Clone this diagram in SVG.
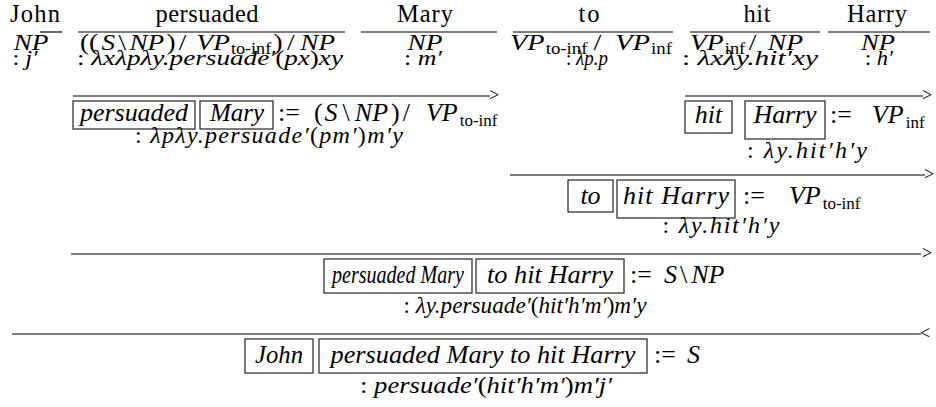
<svg xmlns="http://www.w3.org/2000/svg" width="936" height="407" viewBox="0 0 936 407">
<style>
text{font-family:"Liberation Serif","Times New Roman",serif;font-size:25px;fill:#000}
.w{font-size:24.5px}
.c{font-size:26px}
.t{font-size:24px}
.i{font-style:italic}
.s{font-size:17px;font-style:normal}
.ts{font-size:16px;font-style:normal}
.sem{font-size:24px}
.ts2{font-size:22px}
.b{font-size:26px;font-style:italic}
.sym{font-size:18px}
.bg{fill:#fff;stroke:none}
line{stroke:#000;stroke-width:1.2}
rect.box{fill:none;stroke:#333;stroke-width:1.3}
</style>
<rect class="bg" width="936" height="407"/>

<g id="connectors">
  <line x1="40" y1="32" x2="62" y2="32"/>
  <line x1="78" y1="32" x2="345" y2="32"/>
  <line x1="361" y1="32" x2="497" y2="32"/>
  <line x1="513" y1="32" x2="673" y2="32"/>
  <line x1="690" y1="32" x2="820" y2="32"/>
  <line x1="828" y1="32" x2="930" y2="32"/>
  <line x1="73" y1="96" x2="490" y2="96"/><text class="sym" x="489" y="101">&gt;</text>
  <line x1="685" y1="96" x2="923" y2="96"/><text class="sym" x="922" y="101">&gt;</text>
  <line x1="510" y1="175" x2="925" y2="175"/><text class="sym" x="924" y="180">&gt;</text>
  <line x1="71" y1="254" x2="921" y2="254"/><text class="sym" x="922" y="259">&gt;</text>
  <line x1="12" y1="334" x2="921" y2="334"/><text class="sym" x="920" y="339">&lt;</text>
</g>

<g id="john">
  <text class="w" x="35" y="22" text-anchor="middle" textLength="50" lengthAdjust="spacing">John</text>
  <text class="t i" x="31" y="50" text-anchor="middle" textLength="35" lengthAdjust="spacingAndGlyphs">NP</text>
  <text class="ts2" x="25" y="65" text-anchor="middle" textLength="25" lengthAdjust="spacingAndGlyphs">: <tspan class="i">j′</tspan></text>
</g>

<g id="persuaded">
  <text class="w" x="207" y="22" text-anchor="middle" textLength="103" lengthAdjust="spacing">persuaded</text>
  <text class="t" x="80" y="50" textLength="255" lengthAdjust="spacingAndGlyphs">((<tspan class="i" dx="3">S</tspan><tspan dx="3">\</tspan><tspan class="i" dx="3">NP</tspan><tspan dx="2">)</tspan><tspan dx="3">/</tspan><tspan class="i" dx="9">VP</tspan><tspan class="ts" dx="1" dy="4">to-inf</tspan><tspan dx="2" dy="-4">)</tspan><tspan dx="4">/</tspan><tspan class="i" dx="5">NP</tspan></text>
  <text class="ts2" x="210" y="65" text-anchor="middle" textLength="266" lengthAdjust="spacingAndGlyphs">: <tspan class="i">λxλpλy.persuade′</tspan>(<tspan class="i">px</tspan>)<tspan class="i">xy</tspan></text>
</g>

<g id="mary">
  <text class="w" x="425" y="22" text-anchor="middle" textLength="56" lengthAdjust="spacing">Mary</text>
  <text class="t i" x="425" y="50" text-anchor="middle" textLength="35" lengthAdjust="spacingAndGlyphs">NP</text>
  <text class="ts2" x="423" y="65" text-anchor="middle" textLength="38" lengthAdjust="spacingAndGlyphs">: <tspan class="i">m′</tspan></text>
</g>

<g id="to">
  <text class="w" x="589" y="22" text-anchor="middle" textLength="21" lengthAdjust="spacing">to</text>
  <text class="t" x="510" y="50" textLength="162" lengthAdjust="spacingAndGlyphs"><tspan class="i">VP</tspan><tspan class="ts" dx="1" dy="4">to-inf</tspan><tspan dx="5" dy="-4">/</tspan><tspan class="i" dx="12">VP</tspan><tspan class="ts" dx="1" dy="4">inf</tspan></text>
  <text class="ts2" x="587" y="65" text-anchor="middle" textLength="42" lengthAdjust="spacingAndGlyphs">: <tspan class="i">λp.p</tspan></text>
</g>

<g id="hit">
  <text class="w" x="757" y="22" text-anchor="middle" textLength="27" lengthAdjust="spacing">hit</text>
  <text class="t" x="690" y="50" textLength="113" lengthAdjust="spacingAndGlyphs"><tspan class="i">VP</tspan><tspan class="ts" dx="1" dy="4">inf</tspan><tspan dx="3" dy="-4">/</tspan><tspan class="i" dx="10">NP</tspan></text>
  <text class="ts2" x="750" y="65" text-anchor="middle" textLength="136" lengthAdjust="spacingAndGlyphs">: <tspan class="i">λxλy.hit′xy</tspan></text>
</g>

<g id="harry">
  <text class="w" x="877" y="22" text-anchor="middle" textLength="60" lengthAdjust="spacing">Harry</text>
  <text class="t i" x="878" y="50" text-anchor="middle" textLength="34" lengthAdjust="spacingAndGlyphs">NP</text>
  <text class="ts2" x="879" y="65" text-anchor="middle" textLength="28" lengthAdjust="spacingAndGlyphs">: <tspan class="i">h′</tspan></text>
</g>

<g id="persuaded-mary">
  <rect class="box" x="73" y="101" width="122" height="28"/>
  <text class="b" x="134" y="121" text-anchor="middle" textLength="108" lengthAdjust="spacing">persuaded</text>
  <rect class="box" x="200" y="101" width="73" height="28"/>
  <text class="b" x="237" y="121" text-anchor="middle" textLength="54" lengthAdjust="spacingAndGlyphs">Mary</text>
  <text class="c" x="278" y="121">:=<tspan dx="14">(</tspan><tspan class="i" dx="2">S</tspan><tspan dx="5">\</tspan><tspan class="i" dx="5">NP</tspan><tspan dx="3">)</tspan><tspan dx="3">/</tspan><tspan class="i" dx="16">VP</tspan><tspan class="s" dx="2" dy="5">to-inf</tspan></text>
  <text class="sem" x="269" y="143" text-anchor="middle" textLength="268" lengthAdjust="spacing">: <tspan class="i">λpλy.persuade′</tspan>(<tspan class="i">pm′</tspan>)<tspan class="i">m′y</tspan></text>
</g>

<g id="hit-harry">
  <rect class="box" x="685" y="101" width="47" height="32"/>
  <text class="b" x="708.5" y="123" text-anchor="middle">hit</text>
  <rect class="box" x="745" y="101" width="80" height="38"/>
  <text class="b" x="785" y="123" text-anchor="middle" textLength="63" lengthAdjust="spacing">Harry</text>
  <text class="c" x="830" y="123">:=<tspan class="i" dx="20">VP</tspan><tspan class="s" dx="2" dy="5">inf</tspan></text>
  <text class="sem" x="807" y="158" text-anchor="middle" textLength="120" lengthAdjust="spacing">: <tspan class="i">λy.hit′h′y</tspan></text>
</g>

<g id="to-hit-harry">
  <rect class="box" x="568" y="180" width="45" height="32"/>
  <text class="b" x="590.5" y="204" text-anchor="middle">to</text>
  <rect class="box" x="617" y="180" width="118" height="38"/>
  <text class="b" x="676" y="204" text-anchor="middle" textLength="106" lengthAdjust="spacing">hit Harry</text>
  <text class="c" x="743" y="204">:=<tspan class="i" dx="24">VP</tspan><tspan class="s" dx="2" dy="5">to-inf</tspan></text>
  <text class="sem" x="721" y="233" text-anchor="middle" textLength="117" lengthAdjust="spacing">: <tspan class="i">λy.hit′h′y</tspan></text>
</g>

<g id="persuaded-mary-to-hit-harry">
  <rect class="box" x="324" y="259" width="148" height="34"/>
  <text class="b" x="398" y="283" text-anchor="middle" textLength="132" lengthAdjust="spacingAndGlyphs">persuaded Mary</text>
  <rect class="box" x="476" y="259" width="148" height="34"/>
  <text class="b" x="550" y="283" text-anchor="middle" textLength="126" lengthAdjust="spacingAndGlyphs">to hit Harry</text>
  <text class="c" x="630" y="283">:=<tspan class="i" dx="12">S</tspan><tspan dx="3">\</tspan><tspan class="i" dx="4">NP</tspan></text>
  <text class="sem" x="525" y="313" text-anchor="middle" textLength="243" lengthAdjust="spacingAndGlyphs">: <tspan class="i">λy.persuade′</tspan>(<tspan class="i">hit′h′m′</tspan>)<tspan class="i">m′y</tspan></text>
</g>

<g id="john-persuaded-mary-to-hit-harry">
  <rect class="box" x="245" y="339" width="68" height="34"/>
  <text class="b" x="279" y="363" text-anchor="middle" textLength="48" lengthAdjust="spacingAndGlyphs">John</text>
  <rect class="box" x="319" y="339" width="328" height="34"/>
  <text class="b" x="483" y="363" text-anchor="middle" textLength="305" lengthAdjust="spacingAndGlyphs">persuaded Mary to hit Harry</text>
  <text class="c" x="654" y="363">:=<tspan class="i" dx="11">S</tspan></text>
  <text class="sem" x="486" y="393" text-anchor="middle" textLength="252" lengthAdjust="spacingAndGlyphs">: <tspan class="i">persuade′</tspan>(<tspan class="i">hit′h′m′</tspan>)<tspan class="i">m′j′</tspan></text>
</g>
</svg>
